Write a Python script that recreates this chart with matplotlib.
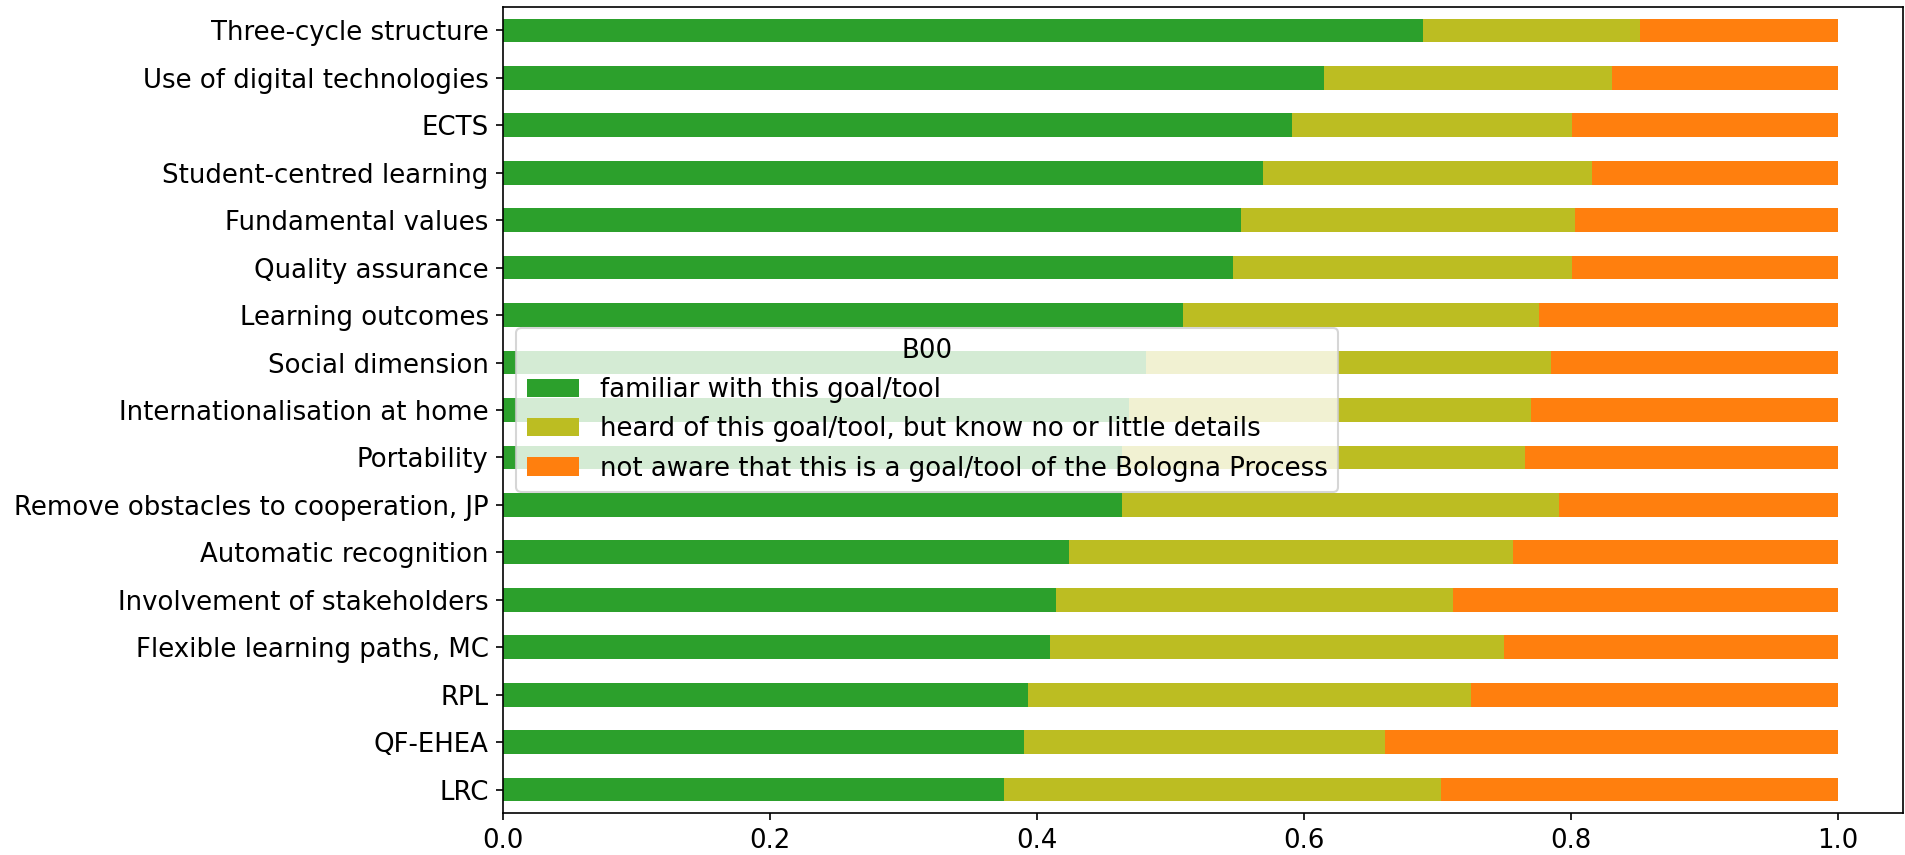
import matplotlib
matplotlib.use("Agg")
import matplotlib.pyplot as plt
import numpy as np

categories = [
    "Three-cycle structure", "Use of digital technologies", "ECTS",
    "Student-centred learning", "Fundamental values", "Quality assurance",
    "Learning outcomes", "Social dimension", "Internationalisation at home",
    "Portability", "Remove obstacles to cooperation, JP", "Automatic recognition",
    "Involvement of stakeholders", "Flexible learning paths, MC", "RPL",
    "QF-EHEA", "LRC",
]
familiar = [0.689, 0.615, 0.591, 0.569, 0.553, 0.547, 0.509, 0.482, 0.469,
            0.464, 0.464, 0.424, 0.414, 0.410, 0.393, 0.390, 0.375]
heard = [0.163, 0.216, 0.210, 0.247, 0.250, 0.254, 0.267, 0.303, 0.301,
         0.302, 0.327, 0.333, 0.298, 0.340, 0.332, 0.271, 0.328]
not_aware = [1 - f - h for f, h in zip(familiar, heard)]

series_labels = [
    "familiar with this goal/tool",
    "heard of this goal/tool, but know no or little details",
    "not aware that this is a goal/tool of the Bologna Process",
]
colors = ["#2ca02c", "#bcbd22", "#ff7f0e"]
legend_title = "B00"

fs = 12.5
fig = plt.figure(figsize=(12.7, 5.7), dpi=150)
ax = fig.add_axes([0.2642, 0.0488, 0.7346, 0.9434])

n = len(categories)
y = np.arange(n)[::-1]
left = np.zeros(n)
for vals, lab, col in zip([familiar, heard, not_aware], series_labels, colors):
    v = np.array(vals)
    ax.barh(y, v, left=left, height=0.5, color=col, label=lab)
    left = left + v

ax.set_yticks(y)
ax.set_yticklabels(categories, fontsize=fs)
ax.set_ylim(-0.5, n - 0.5)
ax.set_xlim(0, 1.0487)
ax.set_xticks([0.0, 0.2, 0.4, 0.6, 0.8, 1.0])
ax.tick_params(axis="x", labelsize=fs)
ax.legend(title=legend_title, loc="center left", fontsize=fs, title_fontsize=fs)

fig.savefig("out.png", dpi=150)
